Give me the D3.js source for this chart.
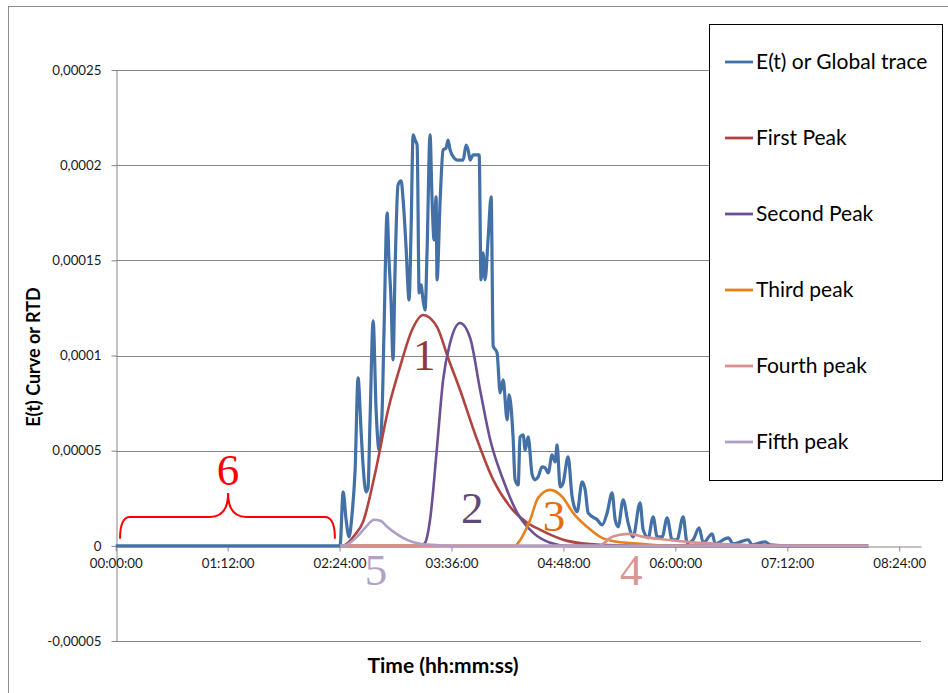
<!DOCTYPE html>
<html>
<head>
<meta charset="utf-8">
<script src="https://cdn.jsdelivr.net/npm/d3@7"></script>
<style>
  body { margin: 0; background: #fff; }
  svg text { font-family: Lato, "Open Sans", sans-serif; }
</style>
</head>
<body>
<div id="chart"></div>
<script>
// Data: time in minutes, values in units of 1e-5

let valueUnit = 1e-5

let xTicks = [0, 72, 144, 216, 288, 360, 432, 504]
let yTicks = [-0.00005, 0, 0.00005, 0.0001, 0.00015, 0.0002, 0.00025]

let seriesNames = [`E(t) or Global trace`, `First Peak`, `Second Peak`, `Third peak`, `Fourth peak`, `Fifth peak`]
let seriesColors = [`#4470a8`, `#b0443f`, `#6b5093`, `#e8801f`, `#d8918f`, `#ae9ec8`]

let globalTrace = [
  [0, 0], [144.3, 0], [146.3, 2.84], [148.2, 1.37], [150.1, 0.47], [152.0, 1.63], [154.0, 3.99],
  [155.9, 8.82], [157.8, 6.09], [159.1, 4.25], [161.0, 2.84], [162.3, 3.05], [163.6, 6.62],
  [165.6, 11.82], [167.5, 7.14], [169.4, 5.04], [171.3, 6.88], [172.6, 11.34], [174.6, 17.49],
  [175.8, 15.02], [177.1, 12.92], [178.4, 9.77], [179.7, 14.5], [181.6, 18.96], [183.6, 19.17],
  [184.9, 18.17], [186.8, 15.65], [188.7, 12.92], [190.0, 16.6], [191.3, 21.59], [192.6, 21.32],
  [193.9, 21.06], [195.2, 13.29], [196.4, 13.71], [197.7, 12.92], [199.0, 12.39], [200.3, 15.55],
  [202.2, 21.59], [203.5, 18.17], [204.8, 16.07], [206.1, 18.33], [206.7, 13.97], [208.7, 18.17],
  [210.6, 20.8], [212.5, 20.9], [213.8, 21.32], [215.1, 20.8], [217.7, 20.38], [219.6, 20.27],
  [223.5, 20.27], [225.4, 21.06], [226.7, 20.8], [228.0, 20.27], [229.9, 20.54], [233.8, 20.54],
  [235.0, 13.97], [236.3, 15.39], [237.6, 13.97], [239.5, 16.07], [241.5, 18.33], [242.8, 10.5],
  [245.3, 10.14], [247.3, 8.04], [249.2, 8.72], [251.8, 6.62], [253.1, 7.93], [255.6, 5.72],
  [256.9, 3.47], [258.9, 3.2], [260.1, 5.72], [262.1, 5.83], [263.4, 5.04], [265.3, 5.72],
  [267.9, 3.73], [269.8, 3.47], [271.7, 3.62], [274.3, 4.15], [276.2, 4.1], [278.2, 3.83],
  [280.7, 4.78], [282.7, 4.41], [283.9, 5.3], [285.9, 3.1], [287.8, 3.31], [291.0, 4.67],
  [293.6, 2.57], [296.8, 1.79], [300.0, 3.36], [302.0, 2.94], [303.9, 1.73], [309.7, 1.37],
  [312.9, 1.1], [316.1, 1.73], [319.3, 2.78], [321.3, 1.37], [323.2, 1.0], [326.4, 2.42],
  [329.6, 1.21], [332.8, 0.47], [337.3, 2.26], [339.3, 0.84], [342.5, 0.42], [345.7, 1.52],
  [348.3, 0.47], [351.5, 0.47], [354.7, 1.47], [357.9, 0.32], [361.1, 0.32], [365.0, 1.52],
  [367.6, 0.16], [371.4, 0.32], [375.3, 0.95], [377.9, 0.16], [383.7, 0.63], [385.6, 0.11],
  [394.0, 0.42], [397.2, 0.11], [406.8, 0.32], [409.4, 0.05], [417.8, 0.21], [421.0, 0.05],
  [433.9, 0], [484, 0],
]

let firstPeak = [
  [144.3, 0], [147.5, 0.05], [153.9, 0.58], [159.1, 1.26], [166.9, 3.83], [175.2, 7.14],
  [182.9, 9.4], [190.6, 11.34], [197.7, 12.13], [206.7, 11.5], [213.8, 9.87], [221.5, 8.19],
  [232.5, 5.57], [242.8, 3.47], [253.7, 2.05], [264.7, 1.21], [273.1, 0.84], [290.4, 0.26],
  [311.7, 0.05], [337.4, 0], [484, 0],
]

let secondPeak = [
  [144.3, 0], [195.8, 0], [199.0, 0.16], [202.2, 1.37], [206.7, 5.2], [210.6, 8.72],
  [215.1, 10.66], [221.5, 11.71], [228.0, 10.92], [234.4, 8.19], [240.9, 5.57], [249.2, 3.47],
  [258.3, 1.73], [268.6, 0.68], [279.5, 0.16], [290.4, 0], [484, 0],
]

let thirdPeak = [
  [144.3, 0], [256.9, 0], [258.9, 0.16], [266.6, 1.37], [271.7, 2.52], [279.5, 2.94],
  [287.8, 2.52], [294.2, 1.73], [303.2, 1.0], [311.6, 0.47], [322.5, 0.21], [337.3, 0.11],
  [354.7, 0], [484, 0],
]

let fourthPeak = [
  [144.3, 0], [310.4, 0], [313.6, 0.11], [318.1, 0.42], [324.5, 0.58], [330.9, 0.63],
  [339.3, 0.47], [354.7, 0.32], [367.6, 0.21], [386.9, 0.11], [414.5, 0.03], [440.3, 0], [484, 0],
]

let fifthPeak = [
  [144.3, 0], [147.5, 0.03], [155.2, 0.47], [161.0, 1.0], [166.2, 1.37], [170.7, 1.31],
  [174.6, 1.0], [179.7, 0.68], [184.8, 0.42], [190.6, 0.21], [195.8, 0.11], [208.7, 0.03],
  [221.5, 0], [484, 0],
]

let series = [globalTrace, firstPeak, secondPeak, thirdPeak, fourthPeak, fifthPeak]

// Hand-written annotations (placed in data units)

let peakLabels = [
  { text: `1`, t: 198.4, v: 9.24, color: `#953735` },
  { text: `2`, t: 229.3, v: 1.21, color: `#5f497a` },
  { text: `3`, t: 282, v: 0.79, color: `#e46c0a` },
  { text: `4`, t: 331.6, v: -2.05, color: `#d99694` },
  { text: `5`, t: 167.5, v: -2.05, color: `#b3a2c7` },
  { text: `6`, t: 72.3, v: 3.2, color: `#ff0000` },
]

let braceLeft = 2.8
let braceRight = 141
let braceMid = 72.3
let braceLevels = { end: 0.37, bar: 1.52, tip: 2.78 }

// Layout

let width = 948
let height = 693

let gridColor = `#868686`
let textColor = `#1a1a1a`

let x = d3.scaleLinear().domain([0, 518]).range([115.7, 921])
let y = d3.scaleLinear().domain([-0.00005, 0.00025]).range([641, 70])

let timeFormat = m => {
  let h = Math.floor(m / 60)
  let mm = m % 60
  return `${String(h).padStart(2, `0`)}:${String(mm).padStart(2, `0`)}:00`
}
let valueFormat = v => v === 0 ? `0` : String(v).replace(`.`, `,`)

let svg = d3
  .select(`#chart`)
  .append(`svg`)
  .attr(`width`, width)
  .attr(`height`, height)

// Chart area border

svg
  .append(`rect`)
  .attr(`x`, 8.5)
  .attr(`y`, 6.5)
  .attr(`width`, width)
  .attr(`height`, height)
  .attr(`fill`, `#fff`)
  .attr(`stroke`, `#8c8c8c`)

// Gridlines

svg
  .append(`g`)
  .selectAll(`line`)
  .data(yTicks.filter(d => d !== 0))
  .join(`line`)
  .attr(`x1`, x.range()[0])
  .attr(`x2`, x.range()[1])
  .attr(`y1`, d => Math.round(y(d)) + 0.5)
  .attr(`y2`, d => Math.round(y(d)) + 0.5)
  .attr(`stroke`, gridColor)

// yAxis

let yAxis = svg
  .append(`g`)
  .attr(`transform`, `translate(${Math.round(x(0)) + 0.5},0)`)
  .call(d3.axisLeft(y).tickValues(yTicks).tickFormat(valueFormat).tickSize(5).tickSizeOuter(0).tickPadding(10))

// xAxis

let xAxis = svg
  .append(`g`)
  .attr(`transform`, `translate(0,${Math.round(y(0)) + 0.5})`)
  .call(d3.axisBottom(x).tickValues(xTicks).tickFormat(timeFormat).tickSize(5).tickSizeOuter(0).tickPadding(7))

;[yAxis, xAxis].forEach(axis => {
  axis.select(`.domain`).attr(`stroke`, gridColor)
  axis.selectAll(`.tick line`).attr(`stroke`, gridColor)
  axis.selectAll(`.tick text`)
    .attr(`fill`, textColor)
    .style(`font-size`, `13.3px`)
    .style(`font-family`, `Lato, sans-serif`)
})

// Axis titles

svg
  .append(`text`)
  .attr(`transform`, `translate(40,357) rotate(-90)`)
  .attr(`text-anchor`, `middle`)
  .attr(`fill`, `#000`)
  .style(`font-size`, `18px`)
  .style(`font-weight`, `bold`)
  .text(`E(t) Curve or RTD`)

svg
  .append(`text`)
  .attr(`x`, 443)
  .attr(`y`, 673)
  .attr(`text-anchor`, `middle`)
  .attr(`fill`, `#000`)
  .style(`font-size`, `21px`)
  .style(`font-weight`, `bold`)
  .text(`Time (hh:mm:ss)`)

// Series

let line = d3.line()
  .x(d => x(d[0]))
  .y(d => y(d[1] * valueUnit))
  .curve(d3.curveMonotoneX)

svg
  .append(`g`)
  .selectAll(`path`)
  .data(series)
  .join(`path`)
  .attr(`d`, line)
  .attr(`fill`, `none`)
  .attr(`stroke`, (d, i) => seriesColors[i])
  .attr(`stroke-width`, (d, i) => i === 0 ? 3.2 : 2.6)
  .attr(`stroke-linejoin`, `round`)

// Brace over the empty start of the trace

let bx = t => x(t)
let by = v => y(v * valueUnit)

svg
  .append(`path`)
  .attr(`d`, [
    `M${bx(braceLeft)},${by(braceLevels.end)}`,
    `Q${bx(braceLeft)},${by(braceLevels.bar)} ${bx(braceLeft + 6.4)},${by(braceLevels.bar)}`,
    `L${bx(braceMid - 11.6)},${by(braceLevels.bar)}`,
    `Q${bx(braceMid)},${by(braceLevels.bar)} ${bx(braceMid)},${by(braceLevels.tip)}`,
    `Q${bx(braceMid)},${by(braceLevels.bar)} ${bx(braceMid + 11.6)},${by(braceLevels.bar)}`,
    `L${bx(braceRight - 6.4)},${by(braceLevels.bar)}`,
    `Q${bx(braceRight)},${by(braceLevels.bar)} ${bx(braceRight)},${by(braceLevels.end)}`,
  ].join(` `))
  .attr(`fill`, `none`)
  .attr(`stroke`, `#ff0000`)
  .attr(`stroke-width`, 2)

svg
  .append(`g`)
  .selectAll(`text`)
  .data(peakLabels)
  .join(`text`)
  .attr(`x`, d => x(d.t))
  .attr(`y`, d => by(d.v))
  .attr(`text-anchor`, `middle`)
  .attr(`fill`, d => d.color)
  .style(`font-family`, `"Liberation Serif", serif`)
  .style(`font-size`, `45px`)
  .text(d => d.text)

// Legend

let legend = svg.append(`g`)

legend
  .append(`rect`)
  .attr(`x`, 709.5)
  .attr(`y`, 24.5)
  .attr(`width`, 233)
  .attr(`height`, 456)
  .attr(`fill`, `#fff`)
  .attr(`stroke`, `#000`)

let legendRow = d3.scaleLinear().domain([0, seriesNames.length - 1]).range([62, 442])

let rows = legend
  .selectAll(`.row`)
  .data(seriesNames)
  .join(`g`)
  .attr(`class`, `row`)
  .attr(`transform`, (d, i) => `translate(0,${legendRow(i)})`)

rows
  .append(`line`)
  .attr(`x1`, 725)
  .attr(`x2`, 753)
  .attr(`stroke`, (d, i) => seriesColors[i])
  .attr(`stroke-width`, 2.8)

rows
  .append(`text`)
  .attr(`x`, 756)
  .attr(`y`, 7)
  .attr(`fill`, `#000`)
  .style(`font-size`, `21px`)
  .text(d => d)
</script>
</body>
</html>
